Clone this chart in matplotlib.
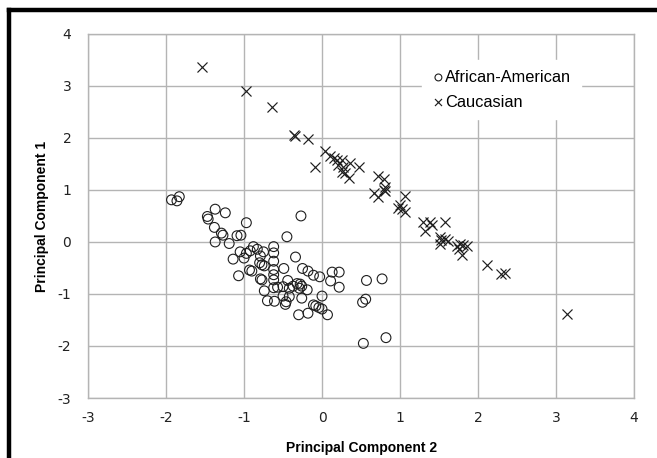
import matplotlib.pyplot as plt
from matplotlib.lines import Line2D

plt.rcParams["axes.unicode_minus"] = False

# Principal component scores: (PC2, PC1)
african_american_pc2 = [
    -1.93, -1.86, -1.83, -1.37, -1.24, -1.47, -1.46, -0.97, -1.38, -1.29,
    -1.27, -1.09, -1.04, -1.37, -1.19, -0.45, -0.27, -0.88, -0.83, -0.62,
    -0.62, -1.05, -0.97, -0.92, -0.75, -0.79, -1.14, -1.00, -0.62, -0.34,
    -0.80, -0.77, -0.74, -0.93, -0.90, -0.62, -0.49, -0.25, -0.18, -0.11,
    -0.03, 0.13, 0.22, -1.07, -0.79, -0.77, -0.62, -0.62, -0.44, -0.32,
    -0.28, -0.26, -0.19, 0.11, 0.22, 0.57, 0.77, -0.74, -0.62, -0.57,
    -0.50, -0.42, -0.37, -0.29, -0.50, -0.42, -0.26, 0.00, -0.70, -0.61,
    -0.47, -0.46, -0.11, -0.08, -0.04, 0.00, -0.30, -0.18, 0.07, 0.52,
    0.56, 0.53, 0.82,
]
african_american_pc1 = [
    0.81, 0.79, 0.87, 0.63, 0.56, 0.49, 0.44, 0.37, 0.28, 0.17,
    0.13, 0.12, 0.13, 0.00, -0.03, 0.10, 0.50, -0.09, -0.14, -0.09,
    -0.21, -0.19, -0.22, -0.17, -0.19, -0.27, -0.33, -0.31, -0.37, -0.29,
    -0.40, -0.44, -0.46, -0.54, -0.56, -0.53, -0.51, -0.51, -0.56, -0.64,
    -0.67, -0.58, -0.58, -0.65, -0.71, -0.73, -0.63, -0.73, -0.74, -0.80,
    -0.81, -0.85, -0.92, -0.75, -0.87, -0.74, -0.71, -0.94, -0.88, -0.87,
    -0.86, -0.89, -0.85, -0.89, -1.04, -1.05, -1.08, -1.04, -1.13, -1.14,
    -1.20, -1.15, -1.21, -1.23, -1.26, -1.29, -1.40, -1.37, -1.40, -1.16,
    -1.10, -1.95, -1.84,
]

caucasian_pc2 = [
    -1.54, -0.97, -0.64, -0.36, -0.35, -0.18, -0.09, 0.04, 0.10, 0.15,
    0.19, 0.25, 0.21, 0.27, 0.36, 0.47, 0.29, 0.34, 0.25, 0.72,
    0.79, 0.81, 0.79, 0.66, 0.72, 1.06, 1.00, 0.81, 0.98, 1.06,
    1.03, 1.29, 1.38, 1.58, 1.32, 1.41, 1.51, 1.53, 1.58, 1.62,
    1.51, 1.73, 1.77, 1.81, 1.86, 1.75, 1.80, 2.12, 2.29, 2.35,
    3.14,
]
caucasian_pc1 = [
    3.37, 2.91, 2.59, 2.06, 2.03, 1.97, 1.45, 1.74, 1.65, 1.61,
    1.58, 1.58, 1.48, 1.45, 1.51, 1.45, 1.32, 1.22, 1.35, 1.26,
    1.21, 1.06, 1.00, 0.95, 0.87, 0.88, 0.71, 0.97, 0.65, 0.58,
    0.63, 0.39, 0.39, 0.39, 0.22, 0.33, 0.10, 0.03, 0.05, 0.01,
    -0.03, -0.08, -0.03, -0.06, -0.08, -0.14, -0.25, -0.44, -0.62, -0.60,
    -1.38,
]

series_labels = ["African-American", "Caucasian"]
x_ticks = [-3, -2, -1, 0, 1, 2, 3, 4]
y_ticks = [-3, -2, -1, 0, 1, 2, 3, 4]

GRID = "#b4b4b4"
INK = "#1e1e1e"

fig = plt.figure(figsize=(6.57, 4.58), dpi=100)
ax = fig.add_axes([0.134, 0.131, 0.831, 0.795])

ax.scatter(african_american_pc2, african_american_pc1, s=50, facecolors="none",
           edgecolors=INK, linewidths=0.8, marker="o", label=series_labels[0], zorder=3)
ax.scatter(caucasian_pc2, caucasian_pc1, s=52, color=INK, linewidths=0.85,
           marker="x", label=series_labels[1], zorder=3)

ax.set_xlim(x_ticks[0], x_ticks[-1])
ax.set_ylim(y_ticks[0], y_ticks[-1])
ax.set_xticks(x_ticks)
ax.set_yticks(y_ticks)
ax.grid(True, color=GRID, linewidth=1.0)
ax.set_axisbelow(True)
for spine in ax.spines.values():
    spine.set_color(GRID)
    spine.set_linewidth(1.0)
ax.tick_params(axis="x", length=0, pad=9, labelsize=10, colors="#222222")
ax.tick_params(axis="y", length=0, pad=12, labelsize=10, colors="#222222")

ax.set_xlabel("Principal Component 2", fontsize=10, fontweight="bold",
              family="Liberation Sans", labelpad=12)
ax.set_ylabel("Principal Component 1", fontsize=10, fontweight="bold",
              family="Liberation Sans", labelpad=6)

legend = ax.legend(loc="upper left", bbox_to_anchor=(0.62, 0.915), frameon=True,
                   prop={"family": "Liberation Sans", "size": 11.8},
                   handletextpad=0.0, handlelength=0.85, borderpad=0.3,
                   labelspacing=0.6, markerscale=0.7, borderaxespad=0.0)
legend.get_frame().set_facecolor("white")
legend.get_frame().set_edgecolor("white")
legend.get_frame().set_alpha(1.0)
legend.get_frame().set_boxstyle("square", pad=0.3)

# Black outer chart border (cropped on the right and bottom)
fig.add_artist(Line2D([0.0135, 0.0135], [0.0, 0.978], color="black", linewidth=3.2,
                      transform=fig.transFigure, solid_capstyle="projecting"))
fig.add_artist(Line2D([0.0135, 1.0], [0.978, 0.978], color="black", linewidth=3.2,
                      transform=fig.transFigure, solid_capstyle="projecting"))

fig.savefig("out.png", dpi=100, facecolor="white")
